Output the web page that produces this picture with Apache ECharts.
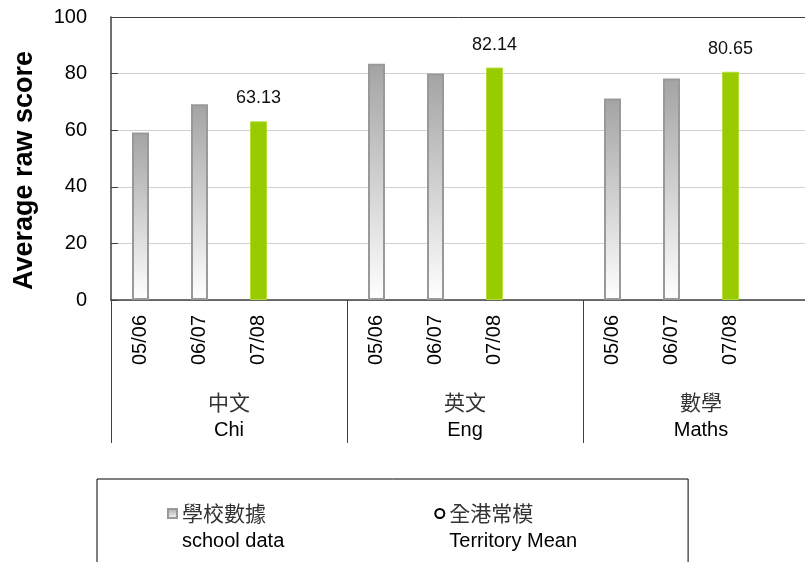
<!DOCTYPE html>
<html><head><meta charset="utf-8">
<script src="https://cdn.jsdelivr.net/npm/echarts@6/dist/echarts.min.js"></script>
<style>html,body{margin:0;padding:0;background:#fff}#c{width:805px;height:562px}</style>
</head><body><div id="c"></div>
<script>
// ---- data ----
const years = ['05/06', '06/07', '07/08', ''];
const subjectsCn = ['中文', '英文', '數學'];
const subjectsEn = ['Chi', 'Eng', 'Maths'];
const chiScores = [59.2, 69.2, 63.13];
const engScores = [83.5, 80.0, 82.14];
const mathsScores = [71.2, 78.3, 80.65];
const territoryMean = []; // no points plotted in the reference
const yTicks = [0, 20, 40, 60, 80, 100];
const seriesNames = ['學校數據\nschool data', '全港常模\nTerritory Mean'];

// ---- build ----
const LAT = 'Liberation Sans, Arial, sans-serif';
const CJK = 'Noto Sans CJK TC, sans-serif';
const groups = [chiScores, engScores, mathsScores];
const categories = [];
const barData = [];
groups.forEach(function (g) {
  years.forEach(function (y, i) {
    categories.push(y);
    if (i < g.length) {
      if (i === 2) {
        barData.push({
          value: g[i],
          itemStyle: { color: '#99cc00', borderColor: '#b5dc3a', borderWidth: 1 },
          label: { show: true }
        });
      } else {
        barData.push(g[i]);
      }
    } else {
      barData.push('-');
    }
  });
});
const groupLabels = subjectsCn.map(function (c, i) { return '{cn|' + c + '}\n{en|' + subjectsEn[i] + '}'; });

function legendFmt(name) {
  const p = name.split('\n');
  return '{cn|' + p[0] + '}\n{en|' + p[1] + '}';
}

const chart = echarts.init(document.getElementById('c'), null, { renderer: 'canvas' });
chart.setOption({
  animation: false,
  backgroundColor: '#fff',
  textStyle: { fontFamily: LAT },
  grid: { left: 111, top: 17, width: 708, height: 283, containLabel: false, outerBoundsMode: 'none' },
  legend: {
    left: 97, top: 479,
    orient: 'horizontal',
    padding: [24, 111, 40, 70],
    borderColor: '#000', borderWidth: 1,
    itemWidth: 9, itemHeight: 9, itemGap: 150,
    formatter: legendFmt,
    textStyle: {
      padding: [12, 0, 0, 0],
      rich: {
        cn: { fontFamily: CJK, fontSize: 21, lineHeight: 44, color: '#333' },
        en: { fontFamily: LAT, fontSize: 20, lineHeight: 12, color: '#000' }
      }
    },
    data: [
      { name: seriesNames[0], icon: 'rect' },
      { name: seriesNames[1], icon: 'emptyCircle', itemStyle: { color: '#000', borderColor: '#000', borderWidth: 2 } }
    ]
  },
  xAxis: [
    {
      type: 'category', data: categories, gridIndex: 0, position: 'bottom',
      axisLine: { lineStyle: { color: '#404040', width: 1.5 } },
      axisTick: { show: false },
      axisLabel: { interval: 0, rotate: 90, margin: 15, fontSize: 20, color: '#000', fontFamily: LAT },
      splitLine: { show: false }
    },
    {
      type: 'category', data: groupLabels, gridIndex: 0, position: 'bottom',
      axisLine: { show: false },
      axisTick: { show: true, length: 143, lineStyle: { color: '#404040', width: 1 } },
      axisLabel: {
        interval: 0, margin: 88,
        rich: {
          cn: { fontFamily: CJK, fontSize: 21, lineHeight: 28, color: '#333' },
          en: { fontFamily: LAT, fontSize: 20, lineHeight: 28, color: '#000' }
        }
      },
      splitLine: { show: false }
    }
  ],
  yAxis: {
    type: 'value', min: yTicks[0], max: yTicks[yTicks.length - 1], interval: yTicks[1] - yTicks[0],
    name: 'Average raw score', nameLocation: 'middle', nameGap: 73, nameRotate: 90,
    nameTextStyle: { fontSize: 27, fontWeight: 'bold', color: '#000', fontFamily: LAT, padding: [0, 24, 0, 0] },
    axisLine: { show: true, lineStyle: { color: '#404040', width: 1.5 } },
    axisTick: { show: true, inside: true, length: 7, lineStyle: { color: '#404040' } },
    axisLabel: { fontSize: 20, color: '#000', margin: 24, fontFamily: LAT },
    splitLine: { show: true, lineStyle: { color: ['#d0d0d0', '#d0d0d0', '#d0d0d0', '#d0d0d0', '#d0d0d0', '#404040'], width: 1 } }
  },
  series: [
    {
      name: seriesNames[0], type: 'bar', xAxisIndex: 0, barWidth: 17,
      data: barData,
      itemStyle: {
        color: new echarts.graphic.LinearGradient(0, 0, 0, 1, [
          { offset: 0, color: '#a3a3a3' },
          { offset: 1, color: '#ffffff' }
        ]),
        borderColor: '#999999', borderWidth: 2
      },
      label: { show: false, position: 'top', distance: 14, fontSize: 18, color: '#111', fontFamily: LAT },
      emphasis: { disabled: true }
    },
    {
      name: seriesNames[1], type: 'line', xAxisIndex: 0, data: territoryMean,
      symbol: 'emptyCircle', itemStyle: { color: '#000', borderColor: '#000' }, lineStyle: { color: '#000' }
    }
  ]
});
</script></body></html>
